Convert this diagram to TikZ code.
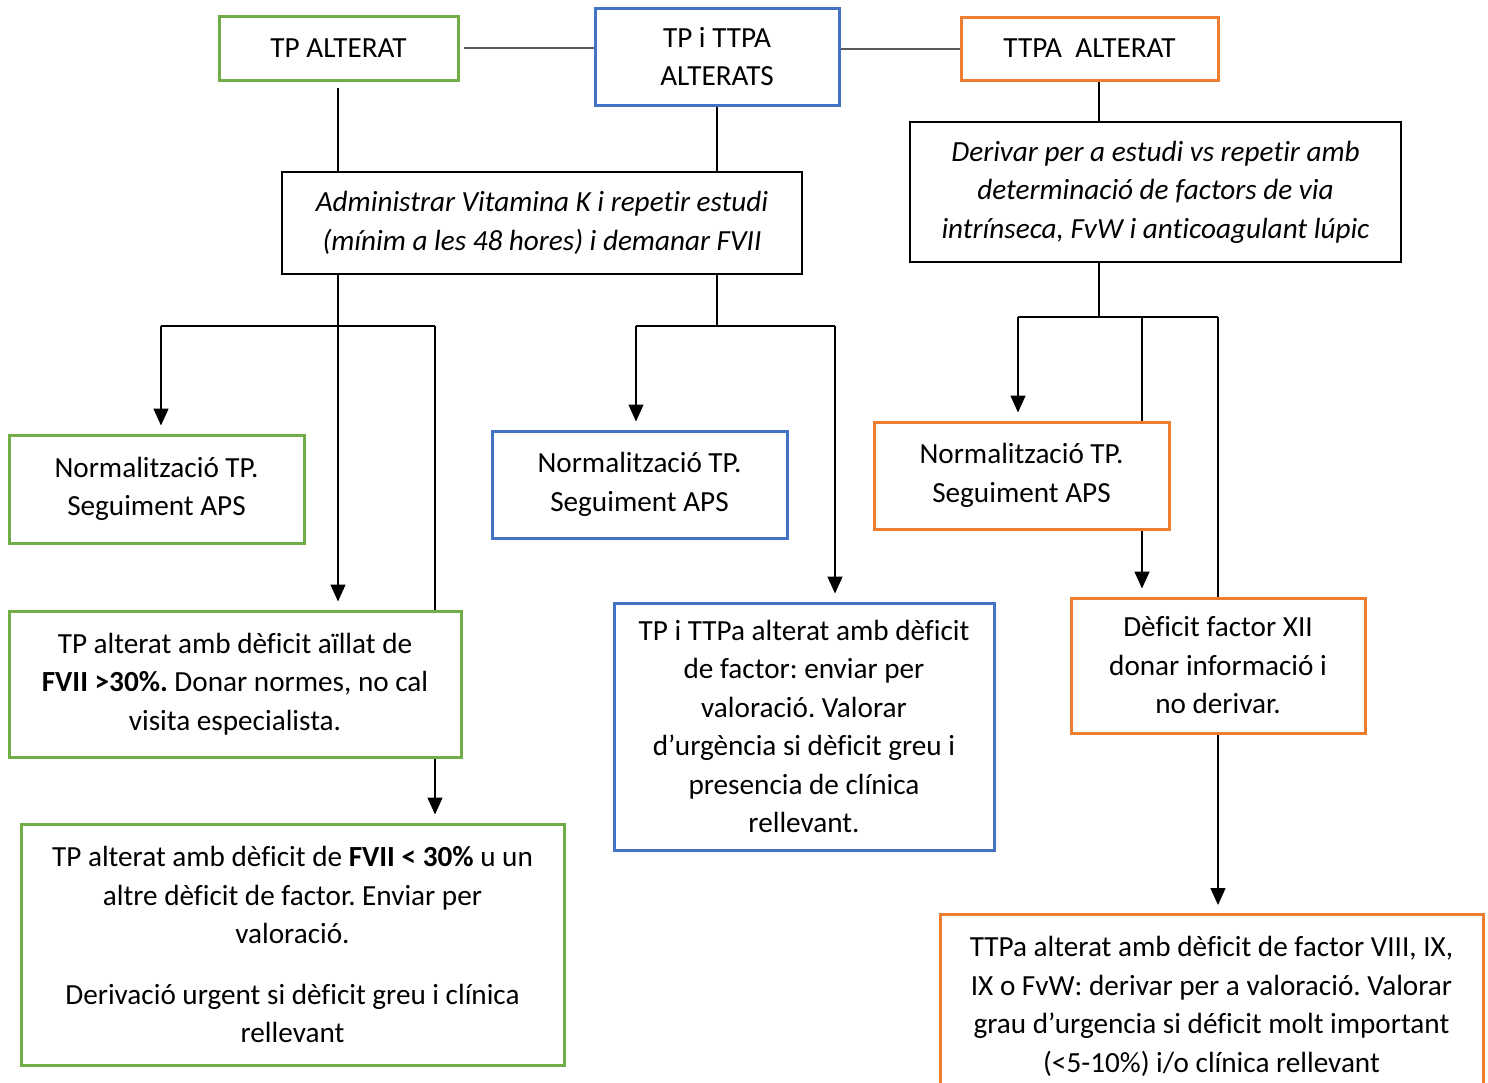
\documentclass[tikz,border=0pt]{standalone}
\usepackage{fontspec}
\setmainfont{Carlito}[Ligatures=NoCommon]
\usetikzlibrary{arrows.meta,backgrounds}
\frenchspacing
\definecolor{tpgreen}{HTML}{70AD47}
\definecolor{tpblue}{HTML}{4472C4}
\definecolor{tporange}{HTML}{ED7D31}
\definecolor{linkgray}{HTML}{595959}
\tikzset{
  box/.style={draw, fill=white, align=center, inner sep=0pt,
      font=\fontsize{14.6}{19.25}\selectfont},
  gbox/.style={box, draw=tpgreen, line width=1.5pt},
  bbox/.style={box, draw=tpblue, line width=1.5pt},
  obox/.style={box, draw=tporange, line width=1.5pt},
  kbox/.style={box, draw=black, line width=1.2pt,
      font=\fontsize{14.6}{19.25}\selectfont\itshape},
  link/.style={draw=linkgray, line width=1pt},
  wire/.style={draw=black, line width=0.7pt},
  arr/.style={wire, -{Triangle[width=7.5pt,length=8.5pt]}, shorten >=4pt}
}
\begin{document}
\begin{tikzpicture}[x=0.5pt, y=-0.5pt]
\useasboundingbox (0,0) rectangle (1488,1082);
% top row
\node[gbox, minimum width=119.5pt, minimum height=32pt] (tpA) at (338.5,48) {TP ALTERAT};
\node[bbox, minimum width=122pt, minimum height=48.5pt] (both) at (717,56.5) {TP i TTPA\\ALTERATS};
\node[obox, minimum width=128.5pt, minimum height=31.5pt] (ttpA) at (1089.5,48.5) {TTPA\ \ ALTERAT};
\node[kbox, minimum width=260pt, minimum height=51pt] (admin) at (542,223)
  {Administrar Vitamina K i repetir estudi\\(mínim a les 48 hores) i demanar FVII};
\node[kbox, minimum width=245.5pt, minimum height=70pt] (deriv) at (1155.5,192)
  {Derivar per a estudi vs repetir amb\\determinació de factors de via\\intrínseca, FvW i anticoagulant lúpic};
% left column
\node[gbox, minimum width=147.5pt, minimum height=54pt] (normG) at (156.5,489) {Normalització TP.\\Seguiment APS};
\node[gbox, minimum width=226pt, minimum height=73pt] (aillG) at (235,684)
  {TP alterat amb dèficit aïllat de\\\textbf{FVII >30\%.} Donar normes, no cal\\visita especialista.};
\node[gbox, minimum width=271.5pt, minimum height=120.5pt] (greuG) at (292.5,944.5)
  {TP alterat amb dèficit de \textbf{FVII < 30\%} u un\\altre dèficit de factor. Enviar per\\valoració.\\[11pt]Derivació urgent si dèficit greu i clínica\\rellevant};
% middle column
\node[bbox, minimum width=147.5pt, minimum height=53.5pt] (normB) at (639.5,484.5) {Normalització TP.\\Seguiment APS};
\node[bbox, minimum width=190pt, minimum height=123.5pt] (factB) at (804,726.5)
  {TP i TTPa alterat amb dèficit\\de factor: enviar per\\valoració. Valorar\\d’urgència si dèficit greu i\\presencia de clínica\\rellevant.};
% right column
\node[obox, minimum width=147.5pt, minimum height=53.5pt] (normO) at (1021.5,475.5) {Normalització TP.\\Seguiment APS};
\node[obox, minimum width=147pt, minimum height=67.5pt] (xiiO) at (1218,665.5)
  {Dèficit factor XII\\donar informació i\\no derivar.};
\node[obox, anchor=north, minimum width=271.5pt, minimum height=92pt] (vwfO) at (1211.5,913)
  {TTPa alterat amb dèficit de factor VIII, IX,\\IX o FvW: derivar per a valoració. Valorar\\grau d’urgencia si déficit molt important\\(<5-10\%) i/o clínica rellevant};
\coordinate (jL) at (338,326);
\coordinate (jL1) at (161,326);
\coordinate (jL3) at (435,326);
\coordinate (jM) at (717,326);
\coordinate (jM1) at (636,326);
\coordinate (jM3) at (835,326);
\coordinate (jR) at (1099,317);
\coordinate (jR1) at (1018,317);
\coordinate (jR2) at (1142,317);
\coordinate (jR3) at (1218,317);
\begin{scope}[on background layer]
\draw[link, shorten <=2pt] (tpA.east) -- (tpA.east -| both.west);
\draw[link] (both.east |- ttpA.west) -- (ttpA.west);
\draw[wire, shorten <=3pt] (tpA.south -| jL) -- (jL |- admin.north);
\draw[wire] (both.south -| jM) -- (jM |- admin.north);
\draw[wire] (ttpA.south -| jR) -- (jR |- deriv.north);
\draw[wire] (admin.south -| jL) -- (jL);
\draw[wire] (admin.south -| jM) -- (jM);
\draw[wire] (deriv.south -| jR) -- (jR);
\draw[wire] (jL1) -- (jL3);
\draw[wire] (jM1) -- (jM3);
\draw[wire] (jR1) -- (jR3);
\draw[arr] (jL1) -- (jL1 |- normG.north);
\draw[arr] (jL) -- (jL |- aillG.north);
\draw[arr] (jL3) -- (jL3 |- greuG.north);
\draw[arr] (jM1) -- (jM1 |- normB.north);
\draw[arr] (jM3) -- (jM3 |- factB.north);
\draw[arr] (jR1) -- (jR1 |- normO.north);
\draw[arr] (jR2) -- (jR2 |- xiiO.north);
\draw[arr] (jR3) -- (jR3 |- vwfO.north);
\end{scope}
\end{tikzpicture}
\end{document}
